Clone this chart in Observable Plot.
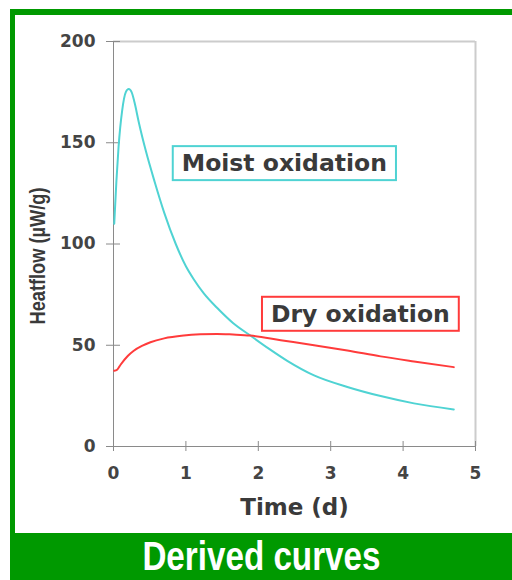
<!DOCTYPE html>
<html><head><meta charset="utf-8">
<script src="https://cdn.jsdelivr.net/npm/d3@7"></script>
<script src="https://cdn.jsdelivr.net/npm/@observablehq/plot@0.6"></script>
<style>
html,body{margin:0;padding:0;background:#fff;}
#page{position:relative;width:512px;height:580px;overflow:hidden;background:#fff;}
.gtop{position:absolute;left:10px;top:9px;width:502px;height:6px;background:#009900;}
.gleft{position:absolute;left:10px;top:9px;width:5px;height:526px;background:#009900;}
#banner{position:absolute;left:10px;top:533px;width:502px;height:47px;background:#009900;color:#fff;font-family:"Liberation Sans",Arial,sans-serif;font-weight:bold;font-size:40px;line-height:47px;text-align:center;}
#banner span{display:inline-block;transform:scaleX(0.83);transform-origin:50% 50%;}
#chart{position:absolute;left:0;top:0;}
</style></head>
<body><div id="page"><div id="chart"></div><div class="gtop"></div><div class="gleft"></div><div id="banner"><span id="bannerText"></span></div></div>
<script>
// ---- data ----
const moistTime = [0.01, 0.04, 0.07, 0.12, 0.17, 0.21, 0.25, 0.29, 0.35, 0.45, 0.57, 0.7, 0.86, 1.0, 1.11, 1.25, 1.43, 1.65, 1.89, 2.15, 2.4, 2.77, 3.23, 3.69, 4.15, 4.7];
const moistFlow = [110, 131, 148, 166, 175, 176.5, 175, 170, 160, 145.5, 130.5, 115.5, 100, 89, 82.5, 75.5, 68.5, 61, 54.8, 48.2, 42.3, 35.1, 29.4, 24.9, 21.3, 18.3];
const dryTime = [0.01, 0.05, 0.1, 0.2, 0.28, 0.4, 0.51, 0.7, 0.97, 1.2, 1.43, 1.65, 1.89, 2.31, 2.77, 3.23, 3.69, 4.15, 4.7];
const dryFlow = [37.4, 37.9, 40.5, 44.8, 47.3, 49.8, 51.5, 53.4, 54.8, 55.4, 55.6, 55.3, 54.8, 52.5, 50, 47.4, 44.5, 42, 39.2];
const xTicks = [0, 1, 2, 3, 4, 5];
const yTicks = [0, 50, 100, 150, 200];
const seriesNames = ["Moist oxidation", "Dry oxidation"];
const seriesColors = ["#4fd3d3", "#ff3b3b"];
const labelTime = [2.36, 3.41];
const labelFlow = [139.7, 65.3];
const xTitle = "Time (d)";
const yTitle = "Heatflow (µW/g)";
const bannerTitle = "Derived curves";

const moist = moistTime.map((t, i) => ({t, v: moistFlow[i]}));
const dry = dryTime.map((t, i) => ({t, v: dryFlow[i]}));
const labels = seriesNames.map((name, i) => ({name, t: labelTime[i], v: labelFlow[i]}));

const arial = '"Liberation Sans",Arial,sans-serif';
const wide = '"DejaVu Sans",sans-serif';

const plot = Plot.plot({
  width: 512, height: 520,
  marginLeft: 113, marginRight: 37, marginTop: 41, marginBottom: 74,
  x: {domain: [0, 5], label: null},
  y: {domain: [0, 200], label: null},
  style: {fontFamily: wide, background: "transparent", color: "#444"},
  marks: [
    Plot.ruleY([200], {stroke: "#cccccc", strokeWidth: 2}),
    Plot.ruleX([5], {stroke: "#cccccc", strokeWidth: 2}),
    Plot.ruleX([0], {stroke: "#8a8a8a"}),
    Plot.ruleY([0], {stroke: "#8a8a8a"}),
    Plot.ruleX(xTicks, {x: d => d, y1: 0, y2: 0, insetTop: -5, insetBottom: -5, stroke: "#8a8a8a"}),
    Plot.ruleY(yTicks, {y: d => d, x1: 0, x2: 0, insetLeft: -7, insetRight: -7, stroke: "#8a8a8a"}),
    Plot.axisX(xTicks, {tickSize: 0, tickPadding: 20, fontSize: 17, fontWeight: "bold", label: null}),
    Plot.axisY(yTicks, {tickSize: 0, tickPadding: 18, fontSize: 17, fontWeight: "bold", label: null}),
    Plot.line(moist, {x: "t", y: "v", stroke: seriesColors[0], strokeWidth: 2, curve: "monotone-x"}),
    Plot.line(dry, {x: "t", y: "v", stroke: seriesColors[1], strokeWidth: 2, curve: "monotone-x"}),
    Plot.text([yTitle], {text: d => d, frameAnchor: "left", textAnchor: "middle", dx: -75.5, dy: 12, rotate: -90, fontFamily: arial, fontWeight: "bold", fontSize: 22, fill: "#3a3a3a", lineAnchor: "middle"}),
    Plot.text([xTitle], {text: d => d, frameAnchor: "bottom", textAnchor: "middle", dy: 61, fontFamily: wide, fontWeight: "bold", fontSize: 23, fill: "#3a3a3a", lineAnchor: "middle"}),
    Plot.text(labels, {x: "t", y: "v", text: "name", fontFamily: wide, fontWeight: "bold", fontSize: 23.5, fill: "#3a3a3a", lineAnchor: "middle"})
  ]
});
document.getElementById("chart").appendChild(plot);
document.getElementById("bannerText").textContent = bannerTitle;

const svg = plot.tagName.toLowerCase() === "svg" ? plot : plot.querySelector("svg");
svg.querySelectorAll("text").forEach(el => {
  // condensed y-axis title, as in the reference
  if (el.textContent === yTitle) {
    el.setAttribute("textLength", 137);
    el.setAttribute("lengthAdjust", "spacingAndGlyphs");
    return;
  }
  // boxes around series labels
  const idx = seriesNames.indexOf(el.textContent);
  if (idx < 0) return;
  const bb = el.getBBox();
  const padX = 9, padY = 3;
  const r = document.createElementNS("http://www.w3.org/2000/svg", "rect");
  r.setAttribute("x", bb.x - padX);
  r.setAttribute("y", bb.y - padY);
  r.setAttribute("width", bb.width + 2 * padX);
  r.setAttribute("height", bb.height + 2 * padY);
  if (el.getAttribute("transform")) r.setAttribute("transform", el.getAttribute("transform"));
  r.setAttribute("fill", "white");
  r.setAttribute("stroke", seriesColors[idx]);
  r.setAttribute("stroke-width", 2);
  el.parentNode.insertBefore(r, el);
});
</script>
</body></html>
